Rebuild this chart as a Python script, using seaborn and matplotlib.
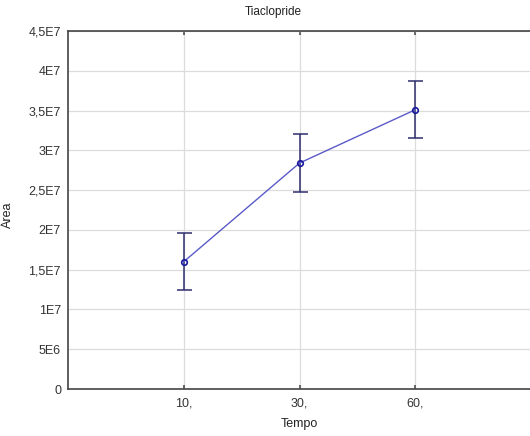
import matplotlib
matplotlib.use("Agg")
import matplotlib.pyplot as plt
import numpy as np
import pandas as pd
import seaborn as sns

tempo = ["10,", "30,", "60,"]
area = [1.60e7, 2.84e7, 3.51e7]
area_err = [3.6e6, 3.6e6, 3.6e6]
y_ticks = [0, 5e6, 1e7, 1.5e7, 2e7, 2.5e7, 3e7, 3.5e7, 4e7, 4.5e7]
y_tick_labels = ["0", "5E6", "1E7", "1,5E7", "2E7", "2,5E7", "3E7", "3,5E7", "4E7", "4,5E7"]

sns.set_theme(style="white")
plt.rcParams["font.family"] = ["Liberation Sans", "DejaVu Sans"]

df = pd.DataFrame({"Tempo": tempo, "Area": area})

fig = plt.figure(figsize=(5.30, 4.36), dpi=100)
ax = fig.add_axes([68 / 530, 47 / 436, 463 / 530, 358 / 436])

ax.grid(True, color="#dcdcdc", linewidth=0.9)
ax.set_axisbelow(True)

x = np.arange(len(tempo))
ax.errorbar(x, area, yerr=area_err, fmt="none", ecolor="#2e2e6e",
            elinewidth=1.1, capsize=5.4, capthick=1.1, zorder=3)
sns.lineplot(data=df, x="Tempo", y="Area", ax=ax, color="#5a5ac8",
             linewidth=1.0, sort=False, zorder=4)
ax.plot(x, area, linestyle="none", marker="o", markersize=4,
        markerfacecolor="none", markeredgecolor="#1a1aa0",
        markeredgewidth=1.2, zorder=5)

ax.set_xlim(-1, 3)
ax.set_ylim(0, 4.5e7)
ax.set_xticks(x)
ax.set_xticklabels(tempo, fontsize=9, color="#333333")
ax.set_yticks(y_ticks)
ax.set_yticklabels(y_tick_labels, fontsize=9, color="#333333")
ax.tick_params(axis="y", direction="out", length=3, color="#555555", pad=2)
ax.tick_params(axis="x", direction="in", length=3, color="#555555", pad=6,
               top=True, bottom=True)

for side in ["left", "bottom", "top", "right"]:
    ax.spines[side].set_visible(True)
    ax.spines[side].set_color("#444444")
    ax.spines[side].set_linewidth(1.2)

ax.set_xlabel("Tempo", fontsize=9, color="#222222", labelpad=6)
ax.set_ylabel("")
fig.text(8 / 530, 1 - 215 / 436, "Área", rotation=90, fontsize=9,
         color="#222222", ha="center", va="center")
fig.text(273 / 530, 1 - 12 / 436, "Tiaclopride", fontsize=8.5,
         color="#222222", ha="center", va="center")

fig.savefig("out.png", dpi=100)
plt.close(fig)
